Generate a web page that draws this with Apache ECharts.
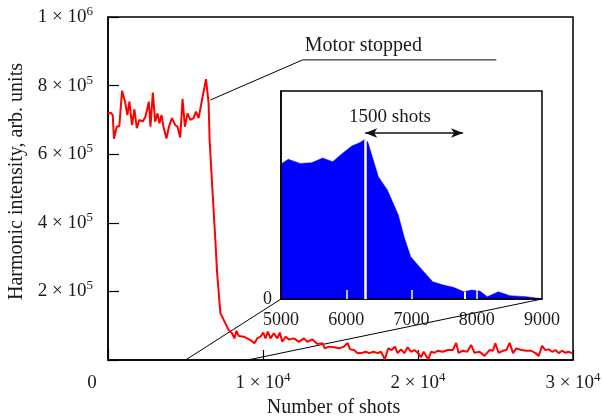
<!DOCTYPE html>
<html><head><meta charset="utf-8">
<script src="https://cdn.jsdelivr.net/npm/echarts@6.0.0/dist/echarts.min.js"></script>
<style>html,body{margin:0;padding:0;background:#fff}#c{width:602px;height:417px}</style>
</head><body><div id="c"></div><script>
// ---- main curve (number of shots vs harmonic intensity) ----
const shotsX = [0,175,304,388,563,731,906,1100,1249,1379,1553,1702,1858,2026,2246,2414,2634,2738,2893,3042,3191,3320,3450,3579,3773,3929,4123,4337,4485,4660,4809,4964,5133,5307,5521,5676,5845,6065,6324,6492,6556,6776,6925,7035,7249,7462,7786,8006,8155,8285,8434,8757,9191,9450,9625,9838,10013,10162,10311,10485,10699,10919,11087,11243,11456,11670,11994,12317,12641,12861,13184,13508,13832,13981,14259,14583,14906,15230,15450,15618,15877,16097,16421,16634,16848,17133,17392,17605,17864,18078,18298,18511,18686,18900,19113,19333,19547,19760,20019,20194,20369,20518,20667,20841,21055,21275,21599,21922,22246,22460,22608,22893,23172,23430,23644,23968,24291,24615,24835,24984,25197,25482,25696,25909,26129,26343,26667,26990,27314,27573,27786,28006,28220,28433,28653,28867,29081,29301,29515,29689,29948];
const intensity = [720000,721000,714000,645000,680000,682000,785000,753000,714000,753000,685000,731000,676000,700000,695000,709000,753000,680000,780000,695000,719000,690000,714000,680000,646000,680000,705000,685000,680000,649000,761000,680000,719000,700000,705000,724000,705000,758000,819000,748000,641000,466000,350000,257000,137000,117000,87000,78000,63000,85000,70000,68000,58000,49000,63000,68000,80000,63000,83000,63000,78000,63000,80000,53000,68000,60000,63000,53000,63000,53000,60000,47000,49000,34000,39000,37000,34000,39000,50000,31000,29000,20000,21000,24000,20000,24000,20000,24000,2000,34000,29000,39000,20000,31000,20000,37000,24000,29000,20000,8000,24000,12000,2000,24000,21000,27000,24000,29000,29000,50000,21000,27000,24000,44000,21000,24000,12000,29000,27000,49000,21000,27000,29000,50000,20000,34000,29000,27000,27000,20000,12000,41000,29000,31000,24000,29000,20000,27000,21000,24000,20000];

// ---- inset (zoom 5000..9000 shots) ----
const insetX = [5000,5112,5291,5470,5639,5792,5930,6083,6211,6287,6330,6492,6630,6798,6885,6988,7130,7325,7488,7641,7805,7922,8050,8162,8330,8510,8765,9000];
const insetY = [649000,672000,652000,655000,678000,660000,697000,735000,752000,768000,755000,588000,524000,404000,300000,203000,152000,83000,67000,56000,35000,43000,38000,11000,35000,16000,11000,1000];
const rangeStart = 6290, rangeEnd = 7790;        // "1500 shots" span
const rangeArrowY = 798000;
const rangeLabel = '1500 shots';
const rangeLabelPos = [6670, 875000];
const rangePeakY = 768000, rangeEndY = 35000;

// ---- tick labels ----
const mainXTicks = [0, 10000, 20000, 30000];
const mainXTickLabels = ['0', '1 × 10^4', '2 × 10^4', '3 × 10^4'];
const mainYTicks = [0, 200000, 400000, 600000, 800000, 1000000];
const mainYTickLabels = ['', '2 × 10^5', '4 × 10^5', '6 × 10^5', '8 × 10^5', '1 × 10^6'];
const insetXTicks = [5000, 6000, 7000, 8000, 9000];
const insetXTickLabels = ['5000', '6000', '7000', '8000', '9000'];

// ---- annotation ----
const motorNote = 'Motor stopped';
const motorNoteX = [6600, 12560, 25050];
const motorNoteY = [758000, 875000, 875000];

const FONT = 'Liberation Serif';
const TXT = '#1a1a1a';

function richLabel(s) {
  if (s === '') return '';
  if (s === '0') return '{z|0}';
  const parts = s.split('^');
  return parts.length > 1 ? '{m|' + parts[0] + '}{s|' + parts[1] + '}' : '{m|' + s + '}';
}
function lookup(ticks, labels, v) {
  const i = ticks.indexOf(v);
  return i < 0 ? '' : labels[i];
}
const richStyles = {
  m: {fontSize: 19, fontFamily: FONT, color: TXT, lineHeight: 24},
  s: {fontSize: 13, fontFamily: FONT, color: TXT, lineHeight: 13, verticalAlign: 'top'},
  z: {fontSize: 19, fontFamily: FONT, color: TXT, lineHeight: 24, padding: [0, 32, 0, 0]}
};

const chart = echarts.init(document.getElementById('c'), null, {renderer: 'canvas'});
const mainData = shotsX.map((x, i) => [x, intensity[i]]);
const insetData = insetX.map((x, i) => [x, insetY[i]]);

chart.setOption({
  animation: false,
  backgroundColor: '#fff',
  grid: [
    {left: 108, top: 17, width: 465, height: 343, outerBoundsMode: 'none', containLabel: false,
     show: true, borderColor: '#000', borderWidth: 1.5, backgroundColor: 'transparent'},
    {left: 281, top: 91, width: 261, height: 208, outerBoundsMode: 'none', containLabel: false,
     show: true, borderColor: '#000', borderWidth: 1.5, backgroundColor: '#fff', z: 5}
  ],
  xAxis: [
    {type: 'value', gridIndex: 0, min: 0, max: 30000, interval: 10000,
     axisLine: {show: true, lineStyle: {color: '#000', width: 1.5}},
     axisTick: {show: true, inside: true, length: 10, lineStyle: {color: '#000', width: 1.2}},
     splitLine: {show: false},
     axisLabel: {margin: 11, formatter: v => richLabel(lookup(mainXTicks, mainXTickLabels, v)), rich: richStyles, showMinLabel: true, showMaxLabel: true},
     name: 'Number of shots', nameLocation: 'middle', nameGap: 34,
     nameTextStyle: {fontSize: 20, fontFamily: FONT, color: TXT, padding: [0, 14, 0, 0]}},
    {type: 'value', gridIndex: 1, min: 5000, max: 9000, interval: 1000, z: 10,
     axisLine: {show: true, lineStyle: {color: '#000', width: 1.5}},
     axisTick: {show: true, inside: true, length: 9, customValues: [6000, 7000, 8000], lineStyle: {color: '#fff', width: 1.5}},
     splitLine: {show: false},
     axisLabel: {margin: 12, fontSize: 18, fontFamily: FONT, color: TXT, formatter: v => lookup(insetXTicks, insetXTickLabels, v), showMinLabel: true, showMaxLabel: true}}
  ],
  yAxis: [
    {type: 'value', gridIndex: 0, min: 0, max: 1000000, interval: 200000,
     axisLine: {show: true, lineStyle: {color: '#000', width: 1.5}},
     axisTick: {show: true, inside: true, length: 11, lineStyle: {color: '#000', width: 1.2}},
     splitLine: {show: false},
     axisLabel: {margin: 15, formatter: v => richLabel(lookup(mainYTicks, mainYTickLabels, v)), rich: richStyles},
     name: 'Harmonic intensity, arb. units', nameLocation: 'middle', nameGap: 78,
     nameTextStyle: {fontSize: 20, fontFamily: FONT, color: TXT, padding: [0, 0, 0, 14]}},
    {type: 'value', gridIndex: 1, min: 0, max: 1000000, interval: 1000000, z: 10,
     axisLine: {show: true, lineStyle: {color: '#000', width: 1.5}},
     axisTick: {show: false}, splitLine: {show: false},
     axisLabel: {margin: 9, fontSize: 18, fontFamily: FONT, color: TXT, formatter: v => (v === 0 ? '0' : '')}}
  ],
  series: [
    {type: 'line', xAxisIndex: 0, yAxisIndex: 0, data: mainData, showSymbol: false, symbol: 'none',
     lineStyle: {color: '#ff0000', width: 2}, itemStyle: {color: '#ff0000'}, z: 3},
    {type: 'line', xAxisIndex: 1, yAxisIndex: 1, data: insetData, showSymbol: false, symbol: 'none', z: 6,
     lineStyle: {color: '#0000ff', width: 0.5}, itemStyle: {color: '#0000ff'},
     areaStyle: {color: '#0000ff', opacity: 1},
     markLine: {silent: true, animation: false, z: 12, label: {show: false},
       data: [
         [{coord: [rangeStart, 0], symbol: 'none', lineStyle: {color: '#fff', width: 2.5, type: 'solid'}},
          {coord: [rangeStart, rangePeakY], symbol: 'none'}],
         [{coord: [rangeEnd + 25, 0], symbol: 'none', lineStyle: {color: '#fff', width: 2, type: 'solid'}},
          {coord: [rangeEnd + 25, rangeEndY], symbol: 'none'}],
         [{coord: [rangeStart, rangeArrowY], symbol: 'arrow', symbolSize: [7, 12], lineStyle: {color: '#111', width: 1.5, type: 'solid'}},
          {coord: [rangeEnd, rangeArrowY], symbol: 'arrow', symbolSize: [7, 12]}]
       ]},
     markPoint: {silent: true, z: 12, symbol: 'circle', symbolSize: 0,
       label: {show: true, position: 'inside', fontSize: 19, fontFamily: FONT, color: TXT, formatter: rangeLabel},
       data: [{coord: rangeLabelPos}]}
    }
  ]
});

// connectors & annotation derived from the axes' own scales
const a0 = chart.convertToPixel({gridIndex: 0}, [insetXTicks[0], 0]);
const a1 = chart.convertToPixel({gridIndex: 0}, [insetXTicks[insetXTicks.length - 1], 0]);
const b0 = chart.convertToPixel({gridIndex: 1}, [insetXTicks[0], 0]);
const b1 = chart.convertToPixel({gridIndex: 1}, [insetXTicks[insetXTicks.length - 1], 0]);
const notePts = motorNoteX.map((x, i) => chart.convertToPixel({gridIndex: 0}, [x, motorNoteY[i]]));

chart.setOption({
  graphic: [
    {type: 'line', z: 1, shape: {x1: a0[0], y1: a0[1], x2: b0[0], y2: b0[1]}, style: {stroke: '#000', lineWidth: 1}},
    {type: 'line', z: 1, shape: {x1: a1[0], y1: a1[1], x2: b1[0], y2: b1[1]}, style: {stroke: '#000', lineWidth: 1}},
    {type: 'polyline', z: 1, shape: {points: notePts}, style: {stroke: '#000', lineWidth: 1, fill: null}},
    {type: 'text', z: 10, x: notePts[1][0] + 2, y: notePts[1][1] - 4,
     style: {text: motorNote, fontSize: 20, fontFamily: FONT, fill: TXT, textAlign: 'left', textVerticalAlign: 'bottom'}}
  ]
});
</script></body></html>
